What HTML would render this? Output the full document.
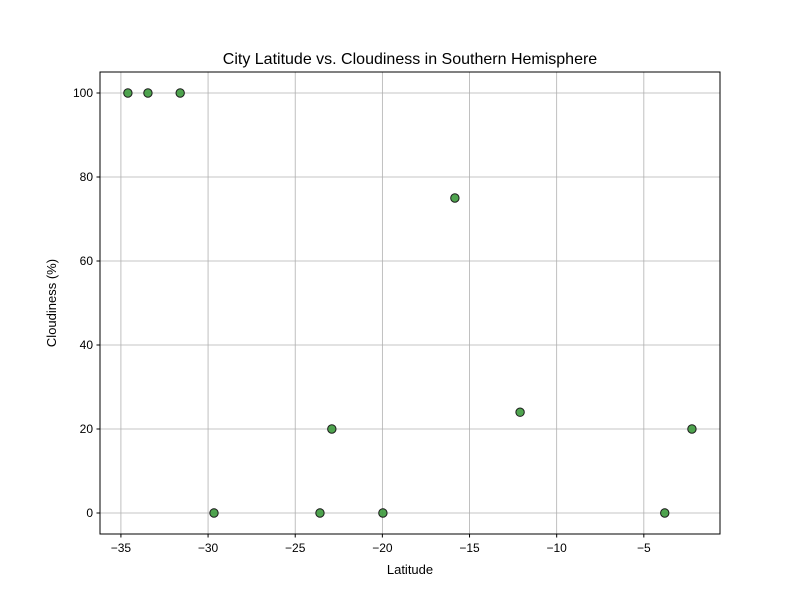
<!DOCTYPE html>
<html><head><meta charset="utf-8"><style>
body{margin:0;background:#fff;font-family:"Liberation Sans","DejaVu Sans",sans-serif}
</style></head><body>
<svg id="chart" width="800" height="600" xmlns="http://www.w3.org/2000/svg">
<rect width="800" height="600" fill="#fff"/>
<g id="grid"></g>
<g id="points"></g>
<rect x="100" y="72" width="620" height="462" fill="none" stroke="#000" stroke-width="1"/>
<g id="xticks" font-size="12" text-anchor="middle"></g>
<g id="yticks" font-size="12" text-anchor="end"></g>
<text x="410" y="64" font-size="16" text-anchor="middle">City Latitude vs. Cloudiness in Southern Hemisphere</text>
<text x="410" y="574" font-size="13" text-anchor="middle">Latitude</text>
<text x="0" y="0" font-size="13" text-anchor="middle" transform="translate(56,303) rotate(-90)">Cloudiness (%)</text>
</svg>
<script>
const latitudes=[-34.6,-33.45,-31.6,-29.66,-23.58,-22.9,-19.97,-15.84,-12.1,-3.8,-2.24];
const cloudiness=[100,100,100,0,0,20,0,75,24,0,20];
const xTickValues=[-35,-30,-25,-20,-15,-10,-5];
const yTickValues=[0,20,40,60,80,100];
const NS="http://www.w3.org/2000/svg";
const X0=100,X1=720,Y0=534,Y1=72,xMin=-36.2,xMax=-0.63,yMin=-5,yMax=105;
function xs(v){return X0+(v-xMin)/(xMax-xMin)*(X1-X0);}
function ys(v){return Y0-(v-yMin)/(yMax-yMin)*(Y0-Y1);}
function mk(t,a,p){const e=document.createElementNS(NS,t);for(const k in a)e.setAttribute(k,a[k]);p.appendChild(e);return e;}
const grid=document.getElementById('grid'),pts=document.getElementById('points'),xt=document.getElementById('xticks'),yt=document.getElementById('yticks');
xTickValues.forEach(v=>{const x=xs(v);
const g=mk('line',{x1:x,x2:x,y1:Y1,y2:Y0,stroke:'#b0b0b0','stroke-width':0.8},grid);


const t=mk('line',{x1:x,x2:x,y1:Y0,y2:Y0+3.5,stroke:'#000'},xt);


const l=mk('text',{x:x,y:Y0+18},xt);l.textContent=String(v).replace('-','−');

});
yTickValues.forEach(v=>{const y=ys(v);
const g=mk('line',{x1:X0,x2:X1,y1:y,y2:y,stroke:'#b0b0b0','stroke-width':0.8},grid);


const t=mk('line',{x1:X0-3.5,x2:X0,y1:y,y2:y,stroke:'#000'},yt);


const l=mk('text',{x:X0-7,y:y+4},yt);l.textContent=v;

});
latitudes.forEach((v,i)=>{const c=mk('circle',{cx:xs(v),cy:ys(cloudiness[i]),r:4.2,fill:'#3c9a3c','fill-opacity':0.9,stroke:'#1a1a1a','stroke-width':1},pts);

});
</script>
</body></html>
